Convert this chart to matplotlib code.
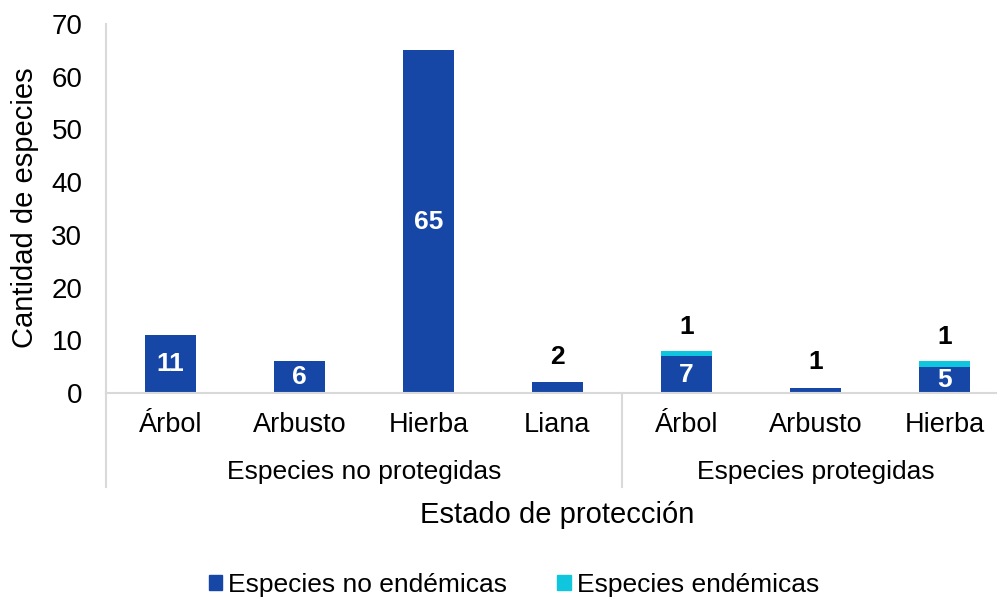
import matplotlib
matplotlib.use("Agg")
import matplotlib.pyplot as plt
from matplotlib.lines import Line2D
from matplotlib.patches import Patch
import numpy as np

plt.rcParams['font.family'] = ['Liberation Sans', 'DejaVu Sans']

categories = ["Árbol", "Arbusto", "Hierba", "Liana", "Árbol", "Arbusto", "Hierba"]
groups = ["Especies no protegidas", "Especies protegidas"]
group_sizes = [4, 3]
no_endemicas = [11, 6, 65, 2, 7, 1, 5]
endemicas = [0, 0, 0, 0, 1, 0, 1]
yticks = [0, 10, 20, 30, 40, 50, 60, 70]

c_blue = "#1747A6"
c_cyan = "#10C6DE"
grey = "#D9D9D9"

W, H = 997, 603
fig = plt.figure(figsize=(W / 100, H / 100), dpi=100)
left, right, top, bottom = 106, 1009, 24, 393
ax = fig.add_axes([left / W, 1 - bottom / H, (right - left) / W, (bottom - top) / H])

x = np.arange(len(categories))
bw = 0.4
ax.bar(x, no_endemicas, width=bw, color=c_blue, zorder=2)
ax.bar(x, endemicas, width=bw, bottom=no_endemicas, color=c_cyan, zorder=2)

ax.set_xlim(-0.5, len(categories) - 0.5)
ax.set_ylim(0, 70)
ax.set_yticks(yticks)
ax.set_xticks(x)
ax.set_xticklabels(categories)
ax.tick_params(axis='both', length=0, colors='black')
ax.tick_params(axis='x', pad=14, labelsize=19.5)
ax.tick_params(axis='y', pad=17, labelsize=20)
for s in ['top', 'right']:
    ax.spines[s].set_visible(False)
for s in ['left', 'bottom']:
    ax.spines[s].set_color(grey)
    ax.spines[s].set_linewidth(1.5)

# data labels
for i, (n, e) in enumerate(zip(no_endemicas, endemicas)):
    if n >= 5:
        ax.text(i, n / 2, str(n), ha='center', va='center', color='white',
                fontsize=19, fontweight='bold', zorder=3)
    else:
        ax.text(i, n + 4.8, str(n), ha='center', va='center', color='black',
                fontsize=19, fontweight='bold', zorder=3)
    if e > 0:
        ax.text(i, n + e + 4.6, str(e), ha='center', va='center', color='black',
                fontsize=19, fontweight='bold', zorder=3)

# multi-level axis
def ypix(p):
    return (bottom - p) / (bottom - top)

y_line_bottom = ypix(487)
bounds = np.cumsum([0] + group_sizes) - 0.5
for b in bounds:
    xa = (b + 0.5) / len(categories)
    ax.add_line(Line2D([xa, xa], [0, y_line_bottom], transform=ax.transAxes,
                       color=grey, lw=1.5, clip_on=False))
for gi, g in enumerate(groups):
    center = (bounds[gi] + bounds[gi + 1]) / 2
    ax.text((center + 0.5) / len(categories), ypix(472), g, transform=ax.transAxes,
            ha='center', va='center', fontsize=19)

fig.text(557 / W, 1 - 515 / H, "Estado de protección", ha='center', va='center', fontsize=21)
fig.text(25 / W, 1 - 208 / H, "Cantidad de especies", ha='center', va='center',
         fontsize=21, rotation=90)

handles = [Patch(color=c_blue), Patch(color=c_cyan)]
fig.legend(handles, ["Especies no endémicas", "Especies endémicas"],
           loc='center', bbox_to_anchor=(514 / W, 1 - 585 / H), ncol=2, frameon=False,
           fontsize=19, handlelength=0.5, handleheight=0.5, handletextpad=0.25,
           columnspacing=1.9, borderpad=0)

fig.savefig("out.png", dpi=100)
